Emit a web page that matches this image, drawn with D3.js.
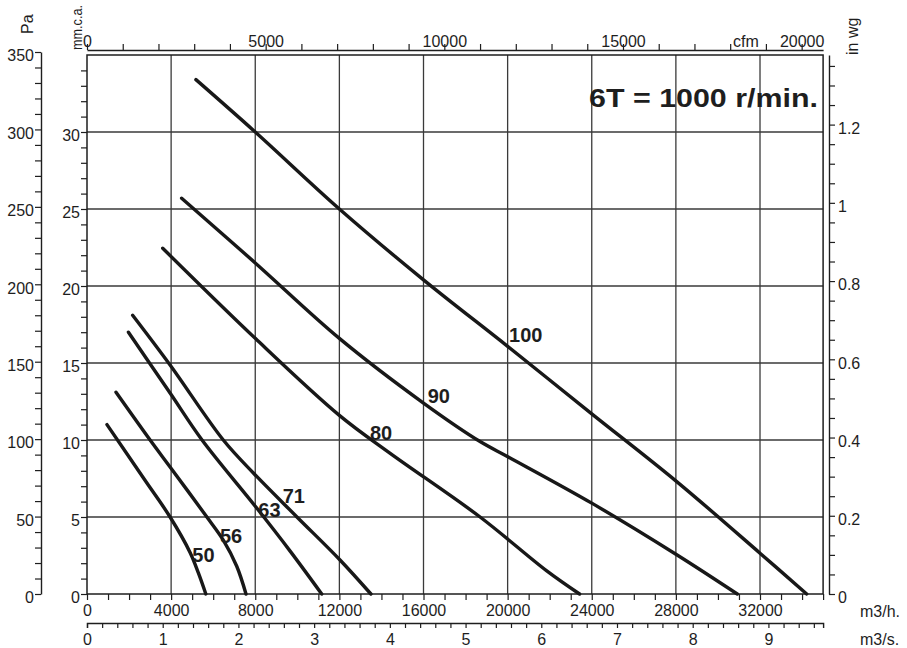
<!DOCTYPE html>
<html>
<head>
<meta charset="utf-8">
<script src="https://cdn.jsdelivr.net/npm/d3@7"></script>
<style>
  body { margin: 0; background: #fff; }
  svg { display: block; }
  text { font-family: "Liberation Sans", Arial, Helvetica, sans-serif; fill: #1e1e1e; }
</style>
</head>
<body>
<svg id="chart" width="907" height="648"></svg>
<script>
// Fan curves, 6T = 1000 r/min: airflow (m3/h) against static pressure (mm.c.a.)
const sizes = ["50", "56", "63", "71", "80", "90", "100"];

const flow50  = [950, 2750, 3950, 4900, 5300, 5650];
const press50 = [11.0, 7.4, 5.0, 2.7, 1.35, 0];

const flow56  = [1380, 3000, 3950, 5700, 6480, 7120, 7560];
const press56 = [13.1, 10.0, 8.25, 5.0, 3.5, 1.8, 0];

const flow63  = [1970, 3950, 5470, 8070, 9650, 11160];
const press63 = [17.0, 13.05, 10.0, 5.58, 2.8, 0];

const flow71  = [2170, 3950, 6480, 7910, 9970, 12030, 13500];
const press71 = [18.1, 14.87, 10.0, 7.86, 5.02, 2.21, 0];

const flow80  = [3600, 8000, 12000, 14400, 18690, 21860, 23420];
const press80 = [22.45, 16.6, 11.6, 9.15, 5.0, 1.5, 0];

const flow90  = [4500, 8000, 12000, 16000, 18690, 20030, 24000, 28040, 30920];
const press90 = [25.7, 21.5, 16.6, 12.4, 9.9, 8.9, 5.9, 2.55, 0];

const flow100  = [5180, 8000, 12000, 16000, 20030, 24000, 28040, 32000, 34220];
const press100 = [33.4, 30.0, 25.0, 20.4, 16.05, 11.7, 7.3, 2.65, 0];

// where each size number sits (flow, pressure at text baseline-left)
const labelFlow  = [5007, 6324, 8145, 9305, 13456, 16200, 20066];
const labelPress = [2.10, 3.29, 5.02, 5.89, 10.0, 12.38, 16.36];

// axis ticks
const flowGrid   = [4000, 8000, 12000, 16000, 20000, 24000, 28000, 32000];
const flowLabels = [0, 4000, 8000, 12000, 16000, 20000, 24000, 28000, 32000];
const pressGrid  = [5, 10, 15, 20, 25, 30];
const pressLabels = [0, 5, 10, 15, 20, 25, 30];
const paLabels   = [0, 50, 100, 150, 200, 250, 300, 350];
const inwgLabels = [0, 0.2, 0.4, 0.6, 0.8, 1, 1.2];
const cfmLabels  = [0, 5000, 10000, 15000, 20000];
const m3sLabels  = [0, 1, 2, 3, 4, 5, 6, 7, 8, 9];
const title = "6T = 1000 r/min.";

const series = [
  [flow50, press50], [flow56, press56], [flow63, press63], [flow71, press71],
  [flow80, press80], [flow90, press90], [flow100, press100]
];

const svg = d3.select("#chart");
const L = 87, R = 823.1, T = 55, B = 594;
const maxFlow = 35000, maxMM = 35;

const x    = d3.scaleLinear([0, maxFlow], [L, R]);
const y    = d3.scaleLinear([0, maxMM], [B, T]);
const xCfm = d3.scaleLinear([0, maxFlow / 1.699], [L, R]);
const xM3s = d3.scaleLinear([0, maxFlow / 3600], [L, R]);
const yPa  = d3.scaleLinear([0, 350], [B, 52]);
const yIn  = d3.scaleLinear([0, maxMM / 25.4], [B, T]);

const ink = "#1e1e1e";
const gridInk = "#3a3a3a";

// grid
const grid = svg.append("g").attr("stroke", gridInk).attr("stroke-width", 1.3);
grid.selectAll("line.v").data(flowGrid).join("line")
  .attr("x1", d => x(d)).attr("x2", d => x(d)).attr("y1", T).attr("y2", B);
grid.selectAll("line.h").data(pressGrid).join("line")
  .attr("y1", d => y(d)).attr("y2", d => y(d)).attr("x1", L).attr("x2", R);

// frame
svg.append("rect").attr("x", L).attr("y", T).attr("width", R - L).attr("height", B - T)
  .attr("fill", "none").attr("stroke", ink).attr("stroke-width", 1.5);

function styleAxis(g) {
  g.selectAll("path.domain").attr("stroke", ink).attr("stroke-width", 1.4);
  g.selectAll(".tick line").attr("stroke", ink).attr("stroke-width", 1.2);
  g.selectAll(".tick text").attr("font-size", 16).attr("fill", ink)
    .style("font-family", '"Liberation Sans", Arial, sans-serif');
}
const step = (a, b, s) => d3.range(Math.round((b - a) / s) + 1).map(i => +(a + i * s).toFixed(4));

// bottom m3/h axis
svg.append("g").attr("transform", `translate(0,${B})`)
  .call(d3.axisBottom(x).tickValues(step(0, 35000, 1000)).tickSize(6).tickSizeOuter(0).tickPadding(5)
    .tickFormat(d => flowLabels.includes(d) ? d : ""))
  .call(g => g.select("path.domain").remove())
  .call(styleAxis);

// bottom m3/s axis
svg.append("g").attr("transform", "translate(0,623)")
  .call(d3.axisBottom(xM3s).tickValues(step(0, 9.6, 0.2)).tickSize(5).tickSizeOuter(5).tickPadding(6)
    .tickFormat(d => m3sLabels.includes(d) ? d : ""))
  .call(styleAxis);

// top cfm axis
svg.append("g").attr("transform", "translate(0,50)")
  .call(d3.axisTop(xCfm).tickValues(step(0, 20000, 1000)).tickSize(6).tickSizeOuter(0).tickPadding(-3)
    .tickFormat(d => cfmLabels.includes(d) ? d : ""))
  .call(styleAxis);

// left Pa axis
svg.append("g").attr("transform", "translate(41,0)")
  .call(d3.axisLeft(yPa).tickValues(step(0, 350, 10)).tickSize(6).tickSizeOuter(0).tickPadding(1)
    .tickFormat(d => paLabels.includes(d) ? d : ""))
  .call(styleAxis)
  .call(g => g.selectAll(".tick text").attr("dy", "0.55em"));

// left mm.c.a. axis
svg.append("g").attr("transform", `translate(${L},0)`)
  .call(d3.axisLeft(y).tickValues(step(0, 34, 1)).tickSize(6).tickSizeOuter(0).tickPadding(1)
    .tickFormat(d => pressLabels.includes(d) ? d : ""))
  .call(g => g.select("path.domain").remove())
  .call(styleAxis)
  .call(g => g.selectAll(".tick text").attr("dy", "0.55em"));

// right in wg axis
svg.append("g").attr("transform", "translate(829,0)")
  .call(d3.axisRight(yIn).tickValues(step(0, 1.35, 0.05)).tickSize(6).tickSizeOuter(0).tickPadding(3)
    .tickFormat(d => inwgLabels.includes(d) ? d : ""))
  .call(styleAxis)
  .call(g => g.selectAll(".tick text").attr("dy", "0.55em"));

// unit labels
const unit = (txt, px, py, rot, size) => svg.append("text").text(txt)
  .attr("transform", `translate(${px},${py})` + (rot ? " rotate(-90)" : ""))
  .attr("font-size", size || 16).attr("fill", ink);
unit("Pa", 33, 34, true);
unit("mm.c.a.", 82, 50, true, 14).attr("textLength", 45).attr("lengthAdjust", "spacingAndGlyphs");
unit("in wg", 858, 55, true);
unit("cfm", 733, 47, false);
unit("m3/h.", 860, 617, false);
unit("m3/s.", 860, 645, false);

// fan curves
const line = d3.line().x(d => x(d[0])).y(d => y(d[1])).curve(d3.curveCatmullRom.alpha(0.5));
svg.append("g").selectAll("path").data(series).join("path")
  .attr("d", s => line(s[0].map((f, i) => [f, s[1][i]])))
  .attr("fill", "none").attr("stroke", "#181818").attr("stroke-width", 3.4)
  .attr("stroke-linecap", "round");

// size labels
svg.append("g").selectAll("text").data(sizes).join("text")
  .attr("x", (d, i) => x(labelFlow[i])).attr("y", (d, i) => y(labelPress[i]))
  .attr("font-size", 20).attr("font-weight", "bold").attr("fill", "#181818")
  .text(d => d);

// speed title
svg.append("text").text(title)
  .attr("x", 818).attr("y", 107).attr("text-anchor", "end")
  .attr("font-size", 26).attr("font-weight", "bold").attr("fill", "#181818")
  .attr("textLength", 229).attr("lengthAdjust", "spacingAndGlyphs");
</script>
</body>
</html>
